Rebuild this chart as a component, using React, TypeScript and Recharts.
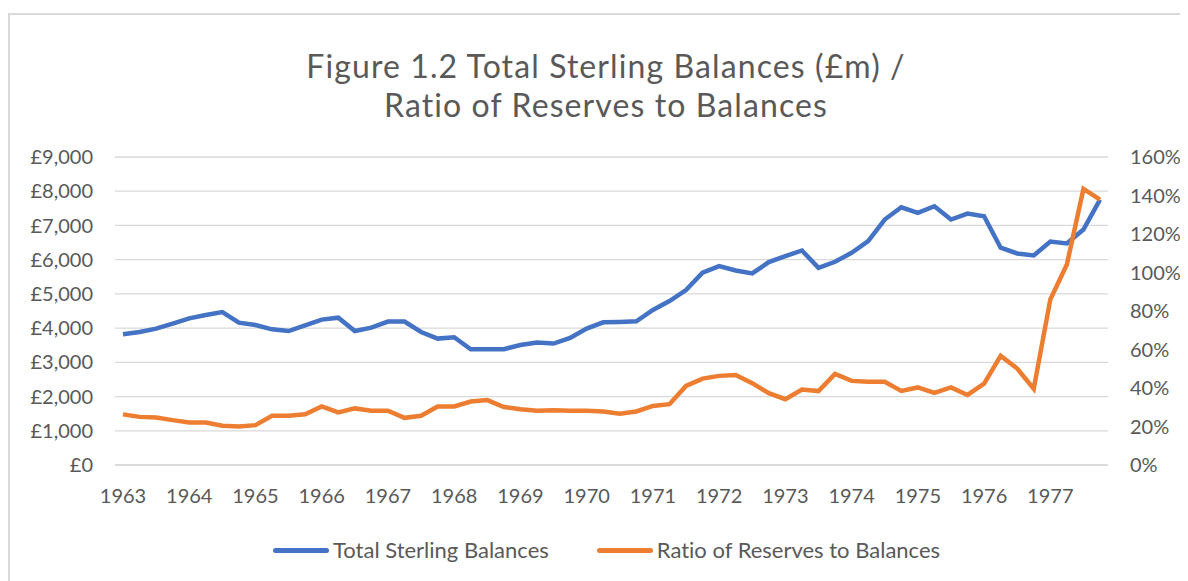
import React from 'react';
import { LineChart, Line, XAxis, YAxis, CartesianGrid } from 'recharts';

const YEARS = [1963, 1964, 1965, 1966, 1967, 1968, 1969, 1970, 1971, 1972, 1973, 1974, 1975, 1976, 1977];
const QUARTERS = ['Q1', 'Q2', 'Q3', 'Q4'];

// Total sterling balances, £m, quarterly 1963 Q1 - 1977 Q4
const BALANCES = [
    3820, 3886, 3985, 4130, 4285, 4383, 4470, 4160, 4090, 3965,
    3915, 4080, 4248, 4305, 3915, 4014, 4190, 4190, 3886, 3693,
    3732, 3382, 3382, 3382, 3508, 3577, 3548, 3712, 3985, 4169,
    4179, 4198, 4529, 4791, 5112, 5617, 5811, 5685, 5598, 5928,
    6103, 6268, 5763, 5938, 6200, 6540, 7172, 7531, 7366, 7561,
    7172, 7347, 7269, 6350, 6181, 6122, 6530, 6472, 6880, 7755,
];

// Ratio of reserves to balances, %
const RATIO = [
    26.3, 25.0, 24.7, 23.3, 22.1, 22.1, 20.4, 20.0, 20.7, 25.6,
    25.6, 26.4, 30.4, 27.3, 29.4, 28.2, 28.2, 24.5, 25.6, 30.4,
    30.4, 33.0, 33.7, 30.1, 29.0, 28.2, 28.5, 28.2, 28.2, 27.8,
    26.6, 27.8, 30.7, 31.6, 41.1, 44.9, 46.3, 46.8, 42.5, 37.3,
    34.2, 39.2, 38.4, 47.3, 43.7, 43.2, 43.2, 38.5, 40.3, 37.5,
    40.3, 36.4, 42.3, 56.7, 50.1, 39.6, 86.0, 104.2, 143.4, 137.9,
];

const LEFT_TICKS = [0, 1000, 2000, 3000, 4000, 5000, 6000, 7000, 8000, 9000];
const RIGHT_TICKS = [0, 0.2, 0.4, 0.6, 0.8, 1.0, 1.2, 1.4, 1.6];

const TITLE_LINES = ['Figure 1.2 Total Sterling Balances (£m) /', 'Ratio of Reserves to Balances'];

const PERIODS = YEARS.flatMap((y) => QUARTERS.map((q) => `${y} ${q}`));

const data = PERIODS.map((p, i) => ({
    period: p,
    balances: BALANCES[i],
    ratio: RATIO[i] / 100,
}));

const FONT = 'Lato, "Open Sans", sans-serif';
const TEXT = '#595959';

const App: React.FC = () => {
    return (
        <div
            style={{
                position: 'relative',
                width: 1180,
                height: 573,
                fontFamily: FONT,
                fontVariantLigatures: 'none',
            }}
        >
            <div
                style={{
                    position: 'absolute',
                    left: 0,
                    top: 5,
                    width: 1180,
                    height: 568,
                    borderTop: '2px solid #d9d9d9',
                    borderLeft: '2px solid #d9d9d9',
                    boxSizing: 'border-box',
                }}
            />
            <div
                style={{
                    position: 'absolute',
                    left: 0,
                    width: 1196,
                    top: 39,
                    textAlign: 'center',
                    color: TEXT,
                    fontSize: 32,
                    letterSpacing: 1.1,
                    lineHeight: '38.5px',
                }}
            >
                {TITLE_LINES.map((t) => (
                    <div key={t}>{t}</div>
                ))}
            </div>
            <LineChart
                width={1180}
                height={573}
                data={data}
                margin={{ top: 149, right: 0, bottom: 66, left: 0 }}
                style={{ position: 'absolute', left: 0, top: 0 }}
            >
                <CartesianGrid yAxisId="left" vertical={false} stroke="#d9d9d9" strokeWidth={1.3} />
                <XAxis
                    dataKey="period"
                    interval={3}
                    tickFormatter={(v: string) => v.slice(0, 4)}
                    padding={{ left: 8, right: 8 }}
                    axisLine={{ stroke: '#d9d9d9', strokeWidth: 1.3 }}
                    tickLine={false}
                    tickSize={0}
                    tickMargin={24}
                    height={50}
                    tick={{ fill: TEXT, fontSize: 20, fontFamily: FONT }}
                />
                <YAxis
                    yAxisId="left"
                    domain={[0, 9000]}
                    ticks={LEFT_TICKS}
                    width={107}
                    axisLine={false}
                    tickLine={false}
                    tickSize={0}
                    tickMargin={22}
                    tick={{ fill: TEXT, fontSize: 20, fontFamily: FONT }}
                    tickFormatter={(v: number) => `£${v.toLocaleString('en-GB')}`}
                />
                <YAxis
                    yAxisId="right"
                    orientation="right"
                    domain={[0, 1.6]}
                    ticks={RIGHT_TICKS}
                    width={80}
                    axisLine={false}
                    tickLine={false}
                    tickSize={0}
                    tickMargin={22}
                    tick={{ fill: TEXT, fontSize: 20, fontFamily: FONT, textAnchor: 'start' }}
                    tickFormatter={(v: number) => `${Math.round(v * 100)}%`}
                />
                <Line
                    yAxisId="left"
                    type="linear"
                    dataKey="balances"
                    stroke="#4472C4"
                    strokeWidth={4.5}
                    dot={false}
                    isAnimationActive={false}
                />
                <Line
                    yAxisId="right"
                    type="linear"
                    dataKey="ratio"
                    stroke="#ED7D31"
                    strokeWidth={4.5}
                    dot={false}
                    isAnimationActive={false}
                />
            </LineChart>
            <div
                style={{
                    position: 'absolute',
                    top: 528,
                    left: 265,
                    display: 'flex',
                    alignItems: 'center',
                    color: TEXT,
                    fontSize: 22,
                    lineHeight: '28px',
                }}
            >
                <span style={{ display: 'inline-block', width: 56, height: 5, borderRadius: 3, background: '#4472C4', marginRight: 4 }} />
                <span>Total Sterling Balances</span>
                <span style={{ display: 'inline-block', width: 56, height: 5, borderRadius: 3, background: '#ED7D31', marginLeft: 48, marginRight: 4 }} />
                <span>Ratio of Reserves to Balances</span>
            </div>
        </div>
    );
};

export default App;
